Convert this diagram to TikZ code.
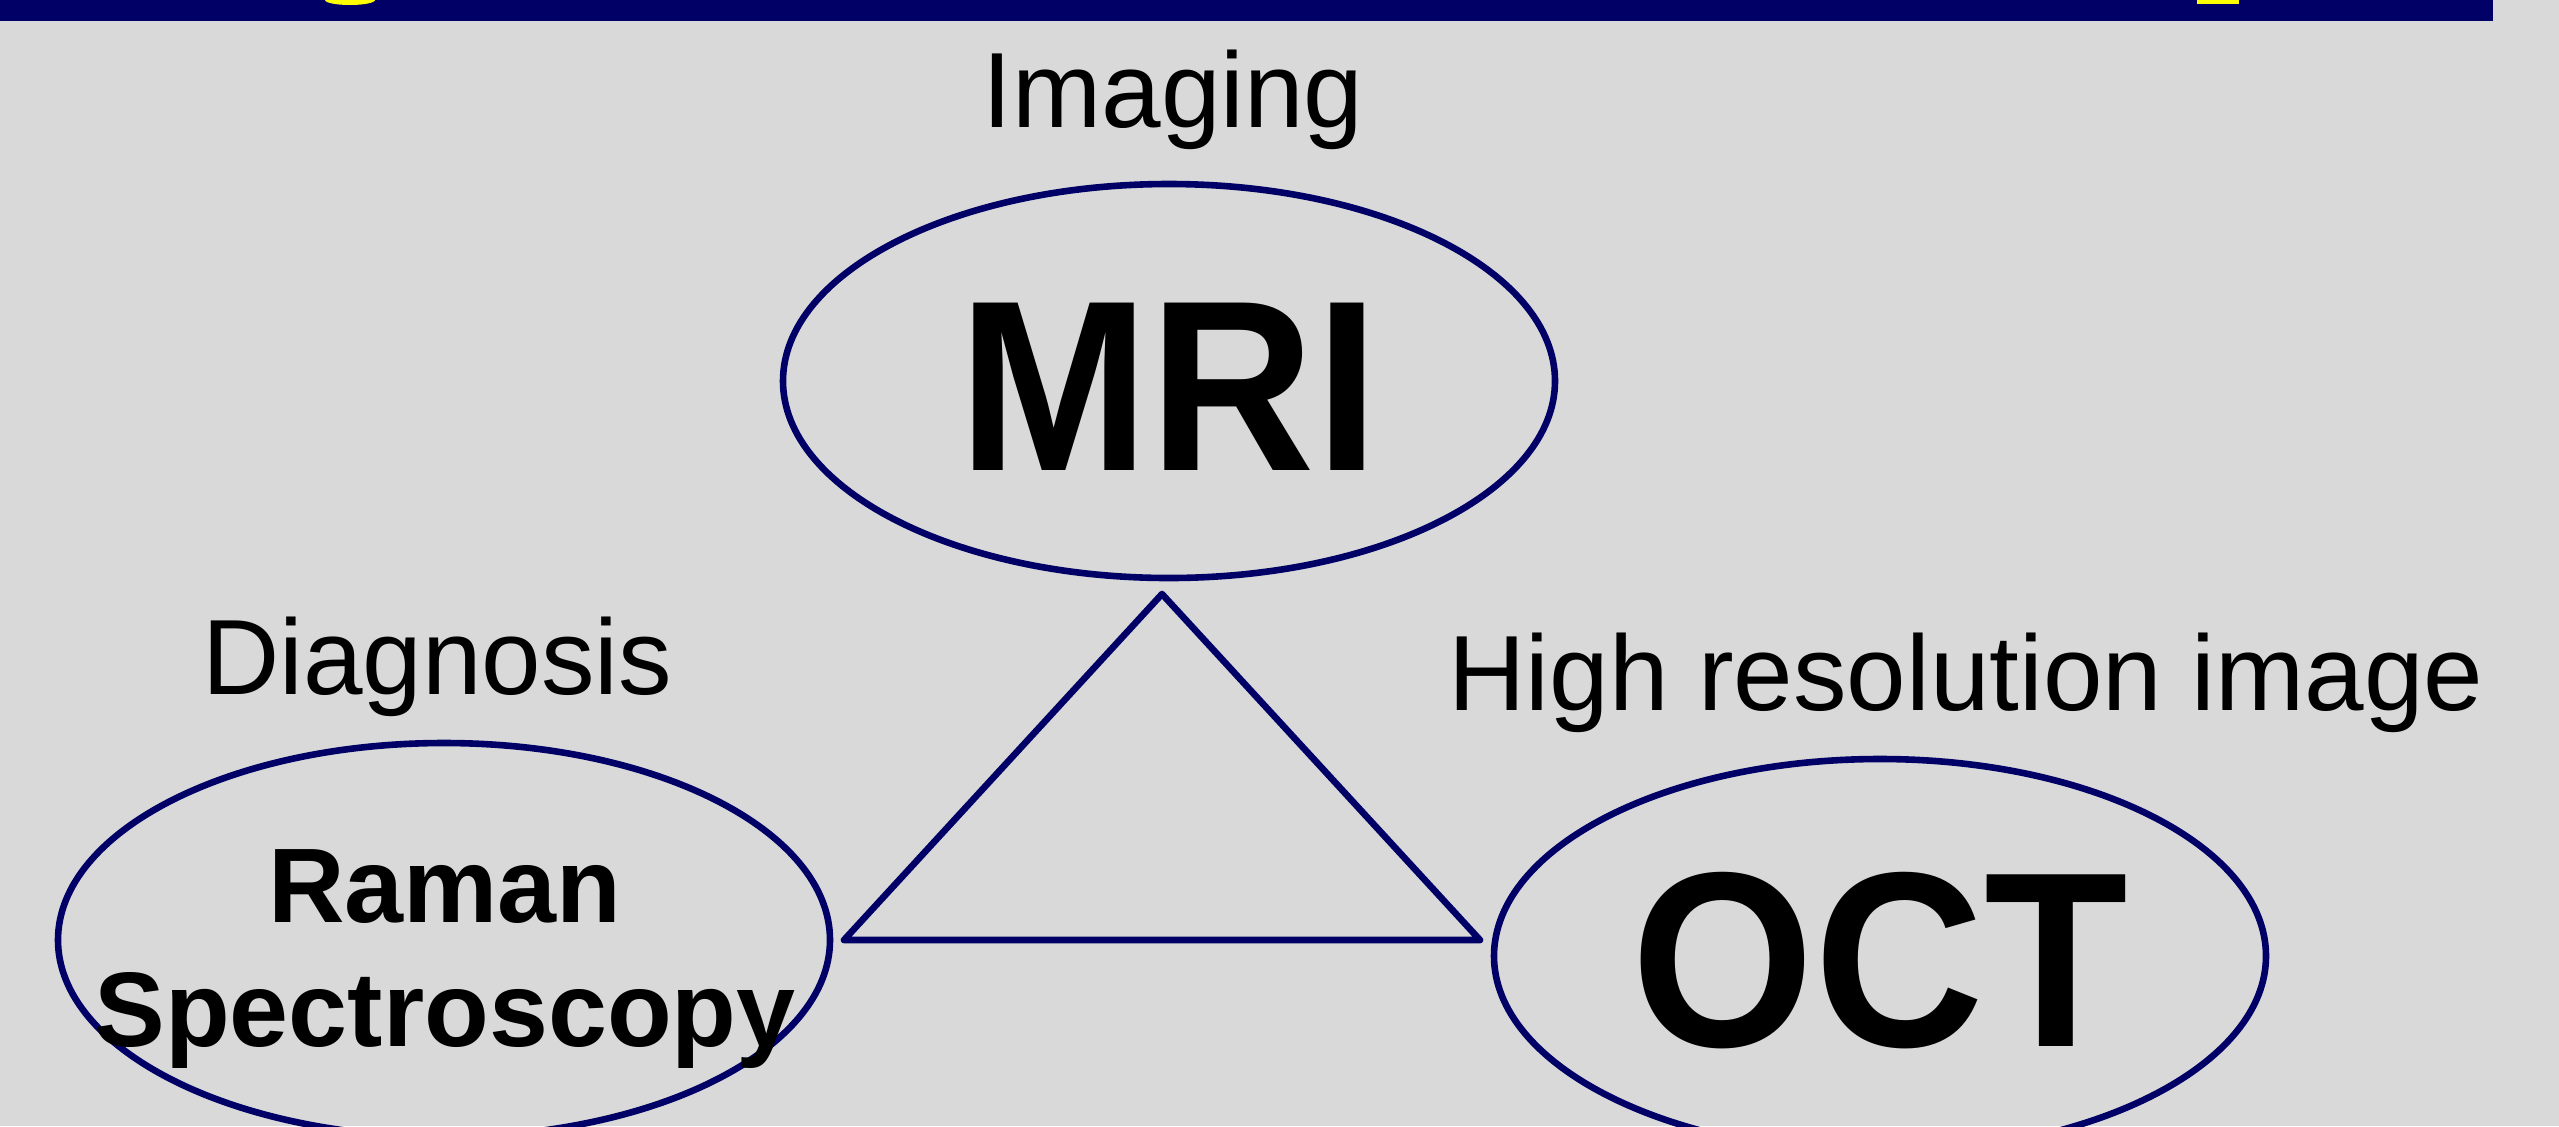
\documentclass[tikz,border=0pt]{standalone}
\usepackage{fontspec}
\setmainfont{Liberation Sans}
\usetikzlibrary{shapes.geometric}
\definecolor{navy}{RGB}{0,0,102}
\definecolor{bg}{RGB}{217,217,217}
\definecolor{titleyellow}{RGB}{255,255,0}
\begin{document}
\begin{tikzpicture}[x=0.5pt,y=-0.5pt,
  oval/.style={ellipse,draw=navy,line width=3.3pt,inner sep=0pt,minimum width=386pt,minimum height=197pt},
  plain/.style={font=\fontsize{53.5pt}{62pt}\selectfont,anchor=base,inner sep=0pt},
  bigbold/.style={font=\fontsize{117pt}{130pt}\selectfont\bfseries},
  midbold/.style={font=\fontsize{53pt}{62pt}\selectfont\bfseries,align=center}]
  \useasboundingbox (0,0) rectangle (2559,1126);
  \fill[bg] (0,0) rectangle (2559,1126);
  % title bar
  \fill[navy] (0,0) rectangle (2493,21);
  \fill[titleyellow] (325,0) arc[start angle=180,end angle=360,x radius=25,y radius=-5] -- cycle;
  \fill[titleyellow] (2197,0) rectangle (2239,4);
  % ellipses
  \node[oval] (mri) at (1169,381) {};
  \node[oval] (raman) at (444,940) {};
  \node[oval] (oct) at (1880,956) {};
  % triangle
  \coordinate (apex) at (1162,594);
  \coordinate (bl) at (844,940);
  \coordinate (br) at (1480,940);
  \draw[navy,line width=3.3pt,line join=round] (apex) -- (bl) -- (br) -- cycle;
  % texts
  \node[bigbold,anchor=base,inner sep=0pt] (mrit) at (1169,470) {\scalebox{0.98}[1.04]{MRI}};
  \node[bigbold,anchor=base,inner sep=0pt,font=\fontsize{120pt}{130pt}\selectfont\bfseries] (octt) at (1880,1046) {\scalebox{0.98}[1.04]{OCT}};
  \node[midbold,anchor=base,inner sep=0pt] (ramant) at (445,922) {Raman};
  \node[midbold,anchor=base,inner sep=0pt] (spect) at (445,1046) {Spectroscopy};
  \node[plain] (imaging) at (1173,127) {Imaging};
  \node[plain] (diag) at (437,694) {Diagnosis};
  \node[plain] (highres) at (1966,710) {High resolution image};
\end{tikzpicture}
\end{document}
